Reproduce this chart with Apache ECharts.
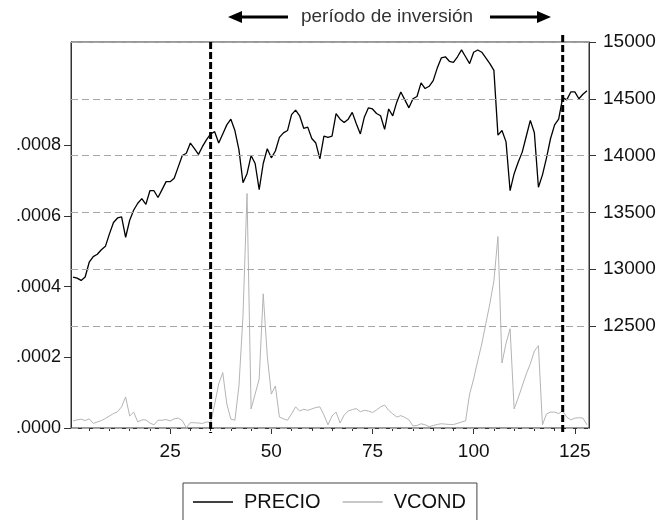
<!DOCTYPE html>
<html>
<head>
<meta charset="utf-8">
<script src="https://cdn.jsdelivr.net/npm/echarts@6/dist/echarts.min.js"></script>
<style>
  html, body { margin: 0; padding: 0; background: #ffffff; }
  #chart { width: 662px; height: 520px; }
</style>
</head>
<body>
<div id="chart"></div>
<script>
// Observation numbers 1..128
const observations = Array.from({ length: 128 }, (_, k) => String(k + 1));

// PRECIO (right axis)
const precio = [
  12930, 12920, 12900, 12930, 13060, 13110, 13130, 13170, 13200, 13310,
  13410, 13450, 13460, 13280, 13430, 13520, 13580, 13620, 13570, 13690,
  13690, 13630, 13700, 13770, 13770, 13800, 13900, 14000, 14020, 14110,
  14060, 14010, 14080, 14140, 14190, 14210, 14110, 14190, 14270, 14320,
  14220, 14050, 13760, 13840, 14000, 13930, 13700, 13930, 14060, 13980,
  14040, 14160, 14200, 14220, 14360, 14400, 14350, 14240, 14250, 14150,
  14110, 13970, 14170, 14160, 14170, 14370, 14320, 14290, 14320, 14380,
  14280, 14190, 14340, 14420, 14410, 14370, 14350, 14230, 14410, 14350,
  14470, 14560, 14490, 14420, 14500, 14520, 14640, 14590, 14610, 14660,
  14770, 14860, 14870, 14830, 14820, 14870, 14930, 14870, 14810, 14910,
  14930, 14910, 14860, 14810, 14750, 14180, 14220, 14120, 13690, 13840,
  13940, 14030, 14170, 14310, 14200, 13720, 13830, 13980, 14150, 14270,
  14320, 14510, 14490, 14560, 14560, 14500, 14540, 14570
];

// VCOND (left axis)
const vcond = [
  20e-6, 23e-6, 25e-6, 21e-6, 26e-6, 13e-6, 17e-6, 21e-6, 27e-6, 34e-6,
  41e-6, 46e-6, 60e-6, 88e-6, 34e-6, 45e-6, 17e-6, 23e-6, 23e-6, 14e-6,
  9e-6, 22e-6, 22e-6, 24e-6, 20e-6, 26e-6, 28e-6, 21e-6, 1e-6, 15e-6,
  15e-6, 14e-6, 13e-6, 17e-6, 16e-6, 67e-6, 125e-6, 157e-6, 68e-6, 25e-6,
  22e-6, 119e-6, 318e-6, 664e-6, 54e-6, 96e-6, 139e-6, 380e-6, 204e-6, 96e-6,
  119e-6, 31e-6, 26e-6, 22e-6, 40e-6, 60e-6, 48e-6, 53e-6, 50e-6, 54e-6,
  58e-6, 60e-6, 37e-6, 9e-6, 34e-6, 45e-6, 14e-6, 37e-6, 48e-6, 52e-6,
  55e-6, 46e-6, 50e-6, 48e-6, 44e-6, 51e-6, 60e-6, 65e-6, 50e-6, 40e-6,
  31e-6, 35e-6, 30e-6, 23e-6, 6e-6, 7e-6, 12e-6, 9e-6, 4e-6, 7e-6,
  10e-6, 12e-6, 11e-6, 10e-6, 10e-6, 13e-6, 17e-6, 20e-6, 96e-6, 139e-6,
  190e-6, 238e-6, 295e-6, 352e-6, 417e-6, 542e-6, 184e-6, 240e-6, 281e-6, 54e-6,
  85e-6, 119e-6, 153e-6, 182e-6, 218e-6, 233e-6, 9e-6, 40e-6, 45e-6, 45e-6,
  41e-6, 48e-6, 31e-6, 23e-6, 28e-6, 29e-6, 28e-6, 9e-6
];

// Axis tick values and labelled observations
const leftTicks = [0, 0.0002, 0.0004, 0.0006, 0.0008];
const rightTicks = [12500, 13000, 13500, 14000, 14500, 15000];
const labelledObs = ['25', '50', '75', '100', '125'];

// Investment period bounds (observation numbers)
const periodStart = '35';
const periodEnd = '122';
const periodText = 'período de inversión';

const FONT = '"Liberation Sans", Arial, sans-serif';
const gridDash = { type: [7, 4], color: '#a6a6a6', width: 1 };

const chart = echarts.init(document.getElementById('chart'), null, { renderer: 'canvas' });

const option = {
  animation: false,
  backgroundColor: '#ffffff',
  textStyle: { fontFamily: FONT },
  grid: {
    left: 71, right: 73, top: 42, bottom: 92,
    show: true, borderColor: '#333333', borderWidth: 1, backgroundColor: 'transparent'
  },
  legend: {
    left: 183, top: 483,
    data: ['PRECIO', 'VCOND'],
    orient: 'horizontal',
    icon: 'rect',
    itemWidth: 40, itemHeight: 1.5, itemGap: 22,
    padding: [9, 11, 9, 10],
    borderColor: '#444444', borderWidth: 1,
    textStyle: { fontSize: 20, color: '#111111', fontFamily: FONT, padding: [0, 0, 0, 6] }
  },
  xAxis: [
    {
      type: 'category',
      data: observations,
      boundaryGap: true,
      axisLine: { show: true, lineStyle: { color: '#333333' } },
      axisTick: {
        show: true, alignWithLabel: true, length: 3,
        interval: (idx, val) => Number(val) % 5 === 0,
        lineStyle: { color: '#333333' }
      },
      axisLabel: {
        show: true, margin: 14, fontSize: 19, color: '#111111', fontFamily: FONT,
        interval: (idx, val) => labelledObs.includes(val)
      },
      splitLine: { show: false }
    },
    {
      type: 'category',
      data: observations,
      boundaryGap: true,
      position: 'bottom',
      axisLine: { show: false },
      axisTick: {
        show: true, alignWithLabel: true, length: 6,
        interval: (idx, val) => labelledObs.includes(val),
        lineStyle: { color: '#333333' }
      },
      axisLabel: { show: false },
      splitLine: { show: false }
    }
  ],
  yAxis: [
    {
      type: 'value',
      position: 'left',
      min: 0, max: 0.001093,
      axisLine: { show: true, lineStyle: { color: '#333333' } },
      axisTick: { show: true, length: 7, customValues: leftTicks, lineStyle: { color: '#333333' } },
      axisLabel: {
        show: true, fontSize: 18, color: '#111111', fontFamily: FONT, margin: 10,
        customValues: leftTicks,
        formatter: v => v.toFixed(4).replace(/^0/, '')
      },
      splitLine: { show: false }
    },
    {
      type: 'value',
      position: 'right',
      min: 11600, max: 15000,
      axisLine: { show: true, lineStyle: { color: '#333333' } },
      axisTick: { show: true, length: 7, customValues: rightTicks, lineStyle: { color: '#333333' } },
      axisLabel: {
        show: true, fontSize: 19, color: '#111111', fontFamily: FONT, margin: 14,
        customValues: rightTicks,
        formatter: v => String(v)
      },
      splitLine: { show: false }
    }
  ],
  series: [
    {
      name: 'VCOND',
      type: 'line',
      xAxisIndex: 0, yAxisIndex: 0,
      data: vcond,
      symbol: 'none',
      lineStyle: { color: '#b4b4b4', width: 1 },
      itemStyle: { color: '#b4b4b4' },
      z: 2,
      markLine: {
        silent: true, symbol: 'none', label: { show: false },
        lineStyle: gridDash,
        data: leftTicks.filter(v => v > 0).map(v => ({ yAxis: v }))
      }
    },
    {
      name: 'PRECIO',
      type: 'line',
      xAxisIndex: 0, yAxisIndex: 1,
      data: precio,
      symbol: 'none',
      lineStyle: { color: '#000000', width: 1.3 },
      itemStyle: { color: '#000000' },
      z: 3,
      markLine: {
        silent: true, symbol: 'none', label: { show: false },
        lineStyle: gridDash,
        data: rightTicks.map(v => ({ yAxis: v }))
      }
    }
  ]
};

chart.setOption(option);

// Investment-period markers and the heading above the plot
const xStart = chart.convertToPixel({ xAxisIndex: 0 }, periodStart);
const xEnd = chart.convertToPixel({ xAxisIndex: 0 }, periodEnd);
const dashStyle = { stroke: '#000000', lineWidth: 3, lineDash: [7, 3] };

chart.setOption({
  graphic: [
    { type: 'line', z: 10, shape: { x1: xStart, y1: 42, x2: xStart, y2: 433 }, style: dashStyle },
    { type: 'line', z: 10, shape: { x1: xEnd, y1: 35, x2: xEnd, y2: 433 }, style: dashStyle },
    {
      type: 'text', x: 387, y: 17,
      style: {
        text: periodText, font: '19px ' + FONT, fill: '#333333',
        align: 'center', verticalAlign: 'middle'
      }
    },
    { type: 'line', shape: { x1: 238, y1: 17, x2: 288, y2: 17 }, style: { stroke: '#000', lineWidth: 3 } },
    { type: 'polygon', shape: { points: [[228, 17], [242, 11], [242, 23]] }, style: { fill: '#000' } },
    { type: 'line', shape: { x1: 490, y1: 17, x2: 540, y2: 17 }, style: { stroke: '#000', lineWidth: 3 } },
    { type: 'polygon', shape: { points: [[551, 17], [537, 11], [537, 23]] }, style: { fill: '#000' } }
  ]
});
</script>
</body>
</html>
